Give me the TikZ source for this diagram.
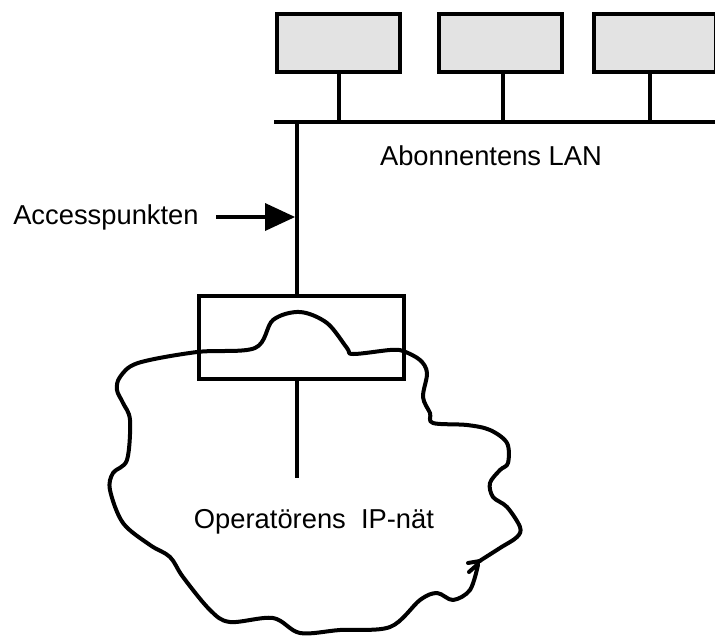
\documentclass[tikz,border=0pt]{standalone}
\usepackage{fontspec}
\setmainfont{Liberation Sans}
\begin{document}
\begin{tikzpicture}[x=0.75pt,y=-0.75pt,
  hostbox/.style={draw,line width=3.3pt,fill=black!11},
  wire/.style={line width=3.3pt},
  cloudline/.style={line width=3pt,line join=round,line cap=round},
  lbl/.style={font=\fontsize{20.5}{24}\selectfont,inner sep=0pt}]
\useasboundingbox (0,0) rectangle (715,636);
% host boxes
\path[hostbox] (277,14) rectangle (400,72);
\path[hostbox] (439,14) rectangle (562,72);
\path[hostbox] (594,14) rectangle (716,72);
\coordinate (h1) at (339,72);
\coordinate (h2) at (503,72);
\coordinate (h3) at (650,72);
\coordinate (busL) at (274,122);
\coordinate (busR) at (715,122);
\draw[wire] (busL) -- (busR);
\draw[wire] (h1) -- (h1 |- busL);
\draw[wire] (h2) -- (h2 |- busL);
\draw[wire] (h3) -- (h3 |- busL);
% access point box and line
\coordinate (acTop) at (297,122);
\coordinate (bxA) at (199,296);
\coordinate (bxB) at (404,379);
\draw[wire] (bxA) rectangle (bxB);
\draw[wire] (acTop) -- (297,296);
\draw[wire] (297,379) -- (297,478);
% labels
\node[lbl,anchor=west] (acc) at (13,217) {Accesspunkten};
\coordinate (arrS) at (216,217);
\coordinate (arrT) at (295,217);
\draw[wire] (arrS) -- (268,217);
\fill (arrT) -- (265,203) -- (265,231) -- cycle;
\node[lbl] (lan) at (491,156) {Abonnentens LAN};
\node[lbl] (ip) at (314,522) {Operatörens\ \ IP-nät};
% cloud
\draw[cloudline] plot[smooth,tension=0.55] coordinates {
 (478,565) (470,590) (453,600) (437,593) (420,600) (390,627) (340,630) (300,633)
 (273,618) (230,622) (210,610) (183,577) (170,557) (150,545) (123,523) (110,490)
 (113,473) (127,460) (130,420) (123,403) (117,390) (120,377) (138,363) (197,352)
 (255,348) (273,320) (300,312) (327,323) (347,348) (353,354) (390,350) (403,351)
 (420,360) (427,373) (423,397) (430,413) (433,423) (467,425) (490,430) (507,443)
 (508,463) (500,470) (490,483) (493,497) (507,507) (520,527) (517,537) (500,548) (478,562)};
\draw[cloudline] (480,561) -- (468,563);
\draw[cloudline] (478,564) -- (469,572);
\end{tikzpicture}
\end{document}
